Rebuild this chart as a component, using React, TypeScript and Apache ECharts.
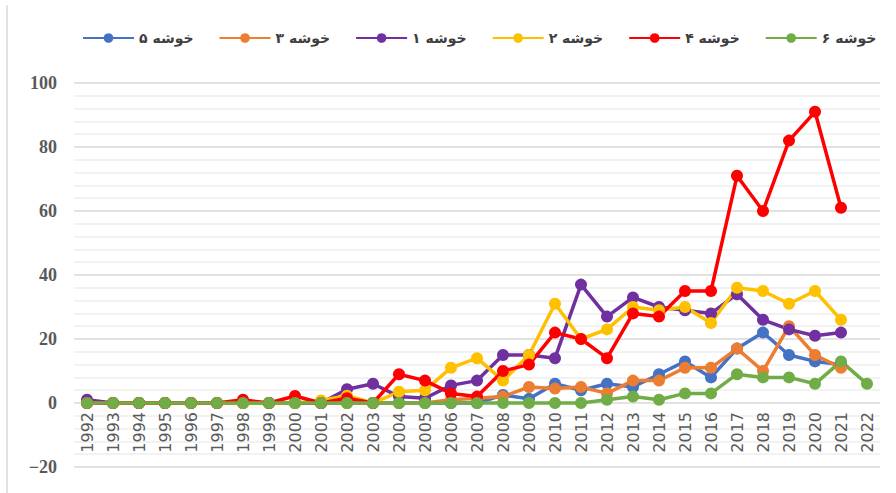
import React, { useEffect, useRef } from "react";
import * as echarts from "echarts";

const years = [
  "1992","1993","1994","1995","1996","1997","1998","1999","2000","2001",
  "2002","2003","2004","2005","2006","2007","2008","2009","2010","2011",
  "2012","2013","2014","2015","2016","2017","2018","2019","2020","2021","2022",
];

const seriesNames = ["خوشه ۵", "خوشه ۳", "خوشه ۱", "خوشه ۲", "خوشه ۴", "خوشه ۶"];
const seriesColors = ["#4472C4", "#ED7D31", "#7030A0", "#FFC000", "#FF0000", "#70AD47"];

const cluster5 = [0,0,0,0,0,0,0,0,0,0,0,0,0,0,0,0,2.5,1.3,6,4,6,5,9,13,8,17,22,15,13,12,null];
const cluster3 = [0,0,0,0,0,0,0,0,0,0,0,0,0,0,1,1.5,2,5,4.5,5,3,7,7,11,11,17,10,24,15,11,null];
const cluster1 = [1,0,0,0,0,0,0,0,0,0,4.3,6,2,1.5,5.5,7,15,15,14,37,27,33,30,29,28,34,26,23,21,22,null];
const cluster2 = [0,0,0,0,0,0,0,0,0,0.8,2.3,0,3.5,4,11,14,7,15,31,20,23,30,29,30,25,36,35,31,35,26,null];
const cluster4 = [0,0,0,0,0,0,1,0,2.2,0,1.5,0,9,7,3,2,10,12,22,20,14,28,27,35,35,71,60,82,91,61,null];
const cluster6 = [0,0,0,0,0,0,0,0,0,0,0,0,0,0,0,0,0,0,0,0,1,2,1,3,3,9,8,8,6,13,6];

const seriesValues = [cluster5, cluster3, cluster1, cluster2, cluster4, cluster6];

const yTicks = { min: -20, max: 100, interval: 20 };

export default function App() {
  const ref = useRef<HTMLDivElement>(null);

  useEffect(() => {
    if (!ref.current) return;
    const chart = echarts.init(ref.current, null, { renderer: "svg" });
    const gridTop = 83;
    const gridBottom = 26;
    const plotH = 493 - gridTop - gridBottom;
    const zeroOffset = (plotH * (0 - yTicks.min)) / (yTicks.max - yTicks.min);
    chart.setOption({
      animation: false,
      backgroundColor: "#ffffff",
      graphic: [
        {
          type: "line",
          shape: { x1: 7, y1: 5, x2: 7, y2: 493 },
          style: { stroke: "#d9d9d9", lineWidth: 1.5 },
        },
      ],
      legend: {
        data: seriesNames,
        left: 77,
        top: 26,
        width: 812,
        itemWidth: 51,
        itemHeight: 12,
        itemGap: 25,
        textStyle: {
          fontFamily: "DejaVu Sans",
          fontSize: 14,
          fontWeight: "bold",
          color: "#404040",
          width: 52,
          overflow: "none",
        },
      },
      grid: { left: 74, right: 16, top: gridTop, bottom: gridBottom, containLabel: false },
      xAxis: {
        type: "category",
        data: years,
        boundaryGap: true,
        offset: -zeroOffset,
        axisLine: { show: false, onZero: false },
        axisTick: { show: false },
        axisLabel: {
          interval: 0,
          rotate: 90,
          fontFamily: "DejaVu Sans",
          fontSize: 16,
          color: "#595959",
          margin: 9,
        },
        splitLine: { show: false },
      },
      yAxis: {
        type: "value",
        min: yTicks.min,
        max: yTicks.max,
        interval: yTicks.interval,
        axisLine: { show: false },
        axisTick: { show: false },
        minorTick: { show: false, splitNumber: 5 },
        axisLabel: {
          fontFamily: "Liberation Serif",
          fontWeight: "bold",
          fontSize: 18,
          color: "#595959",
          margin: 17,
          formatter: (v: number) => String(v).replace("-", "\u2212"),
        },
        splitLine: { show: true, lineStyle: { color: "#d9d9d9", width: 1.5 } },
        minorSplitLine: { show: true, lineStyle: { color: "#eeeeee", width: 1.5 } },
      },
      series: seriesNames.map((name, i) => ({
        name,
        type: "line",
        data: seriesValues[i],
        symbol: "circle",
        symbolSize: 12,
        showSymbol: true,
        connectNulls: false,
        lineStyle: { width: 3.5, color: seriesColors[i] },
        itemStyle: { color: seriesColors[i] },
        emphasis: { disabled: true },
      })),
    });
    return () => chart.dispose();
  }, []);

  return (
    <div
      ref={ref}
      style={{ position: "fixed", left: 0, top: 0, width: 896, height: 493 }}
    />
  );
}
